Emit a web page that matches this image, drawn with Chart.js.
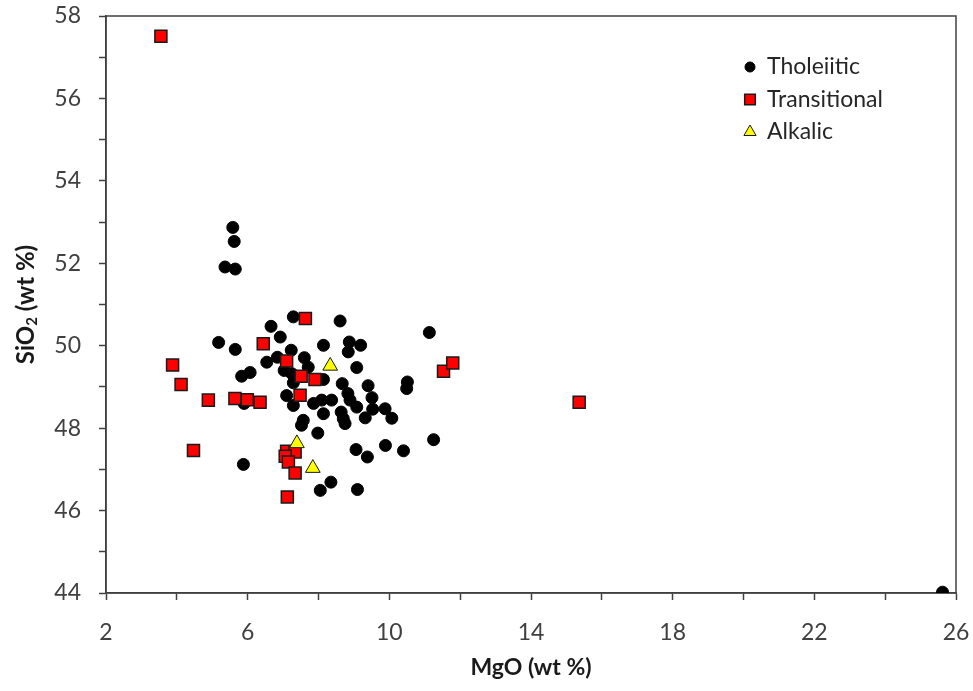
<!DOCTYPE html>
<html lang="en">
<head>
    <meta charset="UTF-8">
    <title>SiO2 vs MgO</title>
    <script src="https://cdn.jsdelivr.net/npm/chart.js@4.4.1/dist/chart.umd.min.js"></script>
    <style>
        body { margin: 0; background: #fff; }
    </style>
</head>
<body>
    <canvas id="grafico" width="973" height="691"></canvas>

    <script>
        // MgO / SiO2 (wt %) for each lava group
        const tholeiiticMgO = [5.58, 5.62, 5.36, 5.65, 5.18, 5.65, 5.88, 6.07, 5.83, 5.90,
            6.54, 6.66, 6.92, 6.84, 7.03, 7.23, 7.29, 7.25, 7.29, 7.10,
            7.29, 7.60, 7.71, 7.86, 7.57, 7.52, 7.98, 8.09, 8.37, 8.14,
            8.14, 8.14, 8.61, 8.67, 8.87, 8.84, 9.19, 9.08, 8.83, 8.89,
            8.64, 8.70, 8.75, 9.08, 9.40, 9.51, 9.53, 9.32, 9.88, 10.07,
            10.51, 10.49, 11.13, 11.25, 10.40, 9.89, 9.06, 9.38, 8.35, 8.05,
            9.10, 25.62];
        const tholeiiticSiO2 = [52.87, 52.53, 51.91, 51.86, 50.08, 49.91, 47.12, 49.35, 49.26, 48.60,
            49.60, 50.47, 50.21, 49.72, 49.40, 49.89, 50.70, 49.32, 49.10, 48.79,
            48.55, 49.71, 49.48, 48.60, 48.19, 48.07, 47.88, 48.68, 48.68, 50.01,
            49.18, 48.35, 50.60, 49.08, 50.09, 49.85, 50.01, 49.47, 48.84, 48.68,
            48.39, 48.23, 48.11, 48.51, 49.03, 48.74, 48.46, 48.25, 48.47, 48.24,
            49.12, 48.96, 50.32, 47.72, 47.45, 47.58, 47.48, 47.30, 46.69, 46.49,
            46.51, 44.02];

        const transitionalMgO = [3.55, 3.88, 4.12, 4.89, 4.47, 5.64, 5.99, 6.35, 6.44, 7.10,
            7.63, 7.51, 7.90, 7.48, 7.10, 7.34, 7.06, 7.15, 7.34, 7.12,
            11.53, 11.79, 15.36];
        const transitionalSiO2 = [57.51, 49.53, 49.06, 48.68, 47.46, 48.72, 48.69, 48.63, 50.05, 49.63,
            50.66, 49.26, 49.18, 48.80, 47.44, 47.42, 47.32, 47.18, 46.91, 46.33,
            49.38, 49.58, 48.63];

        const alkalicMgO = [8.33, 7.39, 7.84];
        const alkalicSiO2 = [49.51, 47.63, 47.03];

        const toPoints = (xs, ys) => xs.map((x, i) => ({ x: x, y: ys[i] }));

        const fonte = 'Lato, "Open Sans", sans-serif';
        const corEixo = '#404040';

        // fixed axis box sizes, no extra room for overhanging labels
        function fixaEixo(s, tamanho) {
            if (s.isHorizontal()) s.height = tamanho; else s.width = tamanho;
            s.paddingTop = 0;
            s.paddingBottom = 0;
            s.paddingLeft = 0;
            s.paddingRight = 0;
        }

        // full frame around the plot area (Excel style)
        const moldura = {
            id: 'moldura',
            beforeDatasetsDraw(chart) {
                const a = chart.chartArea;
                const ctx = chart.ctx;
                ctx.save();
                ctx.strokeStyle = corEixo;
                ctx.lineWidth = 1.5;
                ctx.strokeRect(a.left, a.top, a.right - a.left, a.bottom - a.top);
                ctx.restore();
            }
        };

        // y title with a real subscript
        const tituloY = {
            id: 'tituloY',
            afterDraw(chart) {
                const a = chart.chartArea;
                const ctx = chart.ctx;
                ctx.save();
                ctx.translate(26, (a.top + a.bottom) / 2);
                ctx.rotate(-Math.PI / 2);
                ctx.fillStyle = '#1a1a1a';
                ctx.textBaseline = 'middle';
                const big = 'bold 24px ' + fonte;
                const small = 'bold 15px ' + fonte;
                const parts = [['SiO', big, 0], ['2', small, 6], [' (wt %)', big, 0]];
                let w = 0;
                parts.forEach(p => { ctx.font = p[1]; w += ctx.measureText(p[0]).width; });
                let x = -w / 2;
                parts.forEach(p => {
                    ctx.font = p[1];
                    ctx.fillText(p[0], x, p[2]);
                    x += ctx.measureText(p[0]).width;
                });
                ctx.restore();
            }
        };

        // legend box inside the plot, top right
        const legenda = {
            id: 'legenda',
            afterDraw(chart) {
                const a = chart.chartArea;
                const ctx = chart.ctx;
                const x0 = a.right - 206;
                let y = a.top + 51;
                ctx.save();
                chart.data.datasets.forEach(ds => {
                    ctx.fillStyle = ds.backgroundColor;
                    ctx.strokeStyle = ds.borderColor;
                    ctx.lineWidth = ds.borderWidth;
                    Chart.helpers.drawPoint(ctx, {
                        pointStyle: ds.pointStyle,
                        radius: ds.legendRadius,
                        borderWidth: ds.borderWidth
                    }, x0, y);
                    ctx.fillStyle = '#262626';
                    ctx.font = '23px ' + fonte;
                    ctx.textBaseline = 'middle';
                    ctx.textAlign = 'left';
                    ctx.fillText(ds.label, x0 + 17, y);
                    y += 32.5;
                });
                ctx.restore();
            }
        };

        const ctx = document.getElementById('grafico').getContext('2d');
        const grafico = new Chart(ctx, {
            type: 'scatter',
            data: {
                datasets: [{
                    label: 'Tholeiitic',
                    data: toPoints(tholeiiticMgO, tholeiiticSiO2),
                    pointStyle: 'circle',
                    backgroundColor: '#000000',
                    borderColor: '#000000',
                    borderWidth: 1,
                    pointRadius: 6,
                    legendRadius: 5,
                    order: 3
                }, {
                    label: 'Transitional',
                    data: toPoints(transitionalMgO, transitionalSiO2),
                    pointStyle: 'rect',
                    backgroundColor: '#ff0000',
                    borderColor: '#1a1a1a',
                    borderWidth: 1.5,
                    pointRadius: 8.5,
                    legendRadius: 7.5,
                    order: 2
                }, {
                    label: 'Alkalic',
                    data: toPoints(alkalicMgO, alkalicSiO2),
                    pointStyle: 'triangle',
                    backgroundColor: '#ffff00',
                    borderColor: '#1a1a1a',
                    borderWidth: 1,
                    pointRadius: 8.5,
                    legendRadius: 7,
                    order: 1
                }]
            },
            options: {
                responsive: false,
                animation: false,
                layout: { padding: { top: 16, right: 17, left: 0, bottom: 0 } },
                plugins: {
                    legend: { display: false },
                    tooltip: { enabled: false }
                },
                scales: {
                    x: {
                        type: 'linear',
                        position: 'bottom',
                        min: 2,
                        max: 26,
                        afterFit: s => fixaEixo(s, 98),
                        ticks: {
                            stepSize: 2,
                            autoSkip: false,
                            maxRotation: 0,
                            padding: 19,
                            color: corEixo,
                            font: { family: fonte, size: 23 },
                            callback: v => ((v - 2) % 4 === 0 ? v : '')
                        },
                        grid: { drawOnChartArea: false, tickLength: 7, color: corEixo, tickWidth: 1.5 },
                        border: { color: corEixo, width: 1.5 },
                        title: {
                            display: true,
                            text: 'MgO (wt %)',
                            color: '#1a1a1a',
                            font: { family: fonte, size: 23, weight: 'bold' },
                            padding: { top: 0, bottom: 10 }
                        }
                    },
                    y: {
                        min: 44,
                        max: 58,
                        afterFit: s => fixaEixo(s, 106),
                        ticks: {
                            stepSize: 1,
                            autoSkip: false,
                            padding: 18,
                            color: corEixo,
                            font: { family: fonte, size: 23 },
                            callback: v => (v % 2 === 0 ? v : '')
                        },
                        grid: { drawOnChartArea: false, tickLength: 7, color: corEixo, tickWidth: 1.5 },
                        border: { color: corEixo, width: 1.5 }
                    }
                }
            },
            plugins: [moldura, tituloY, legenda]
        });
    </script>
</body>
</html>
